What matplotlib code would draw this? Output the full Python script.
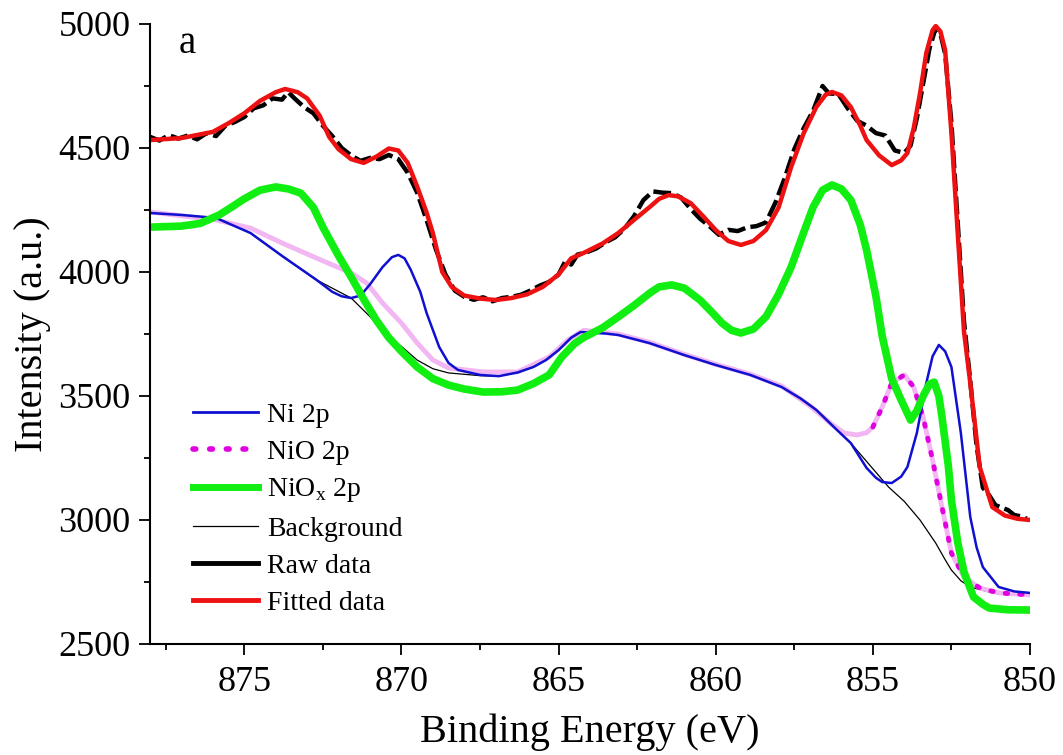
import numpy as np
import matplotlib
matplotlib.use("Agg")
from matplotlib import pyplot as plt
from matplotlib.lines import Line2D

plt.rcParams['font.family'] = ['Liberation Serif', 'DejaVu Serif']
plt.rcParams['mathtext.fontset'] = 'custom'
plt.rcParams['mathtext.rm'] = 'Liberation Serif'

# raw spectrum
raw_x = [878.0, 877.7, 877.4, 877.1, 876.8, 876.5, 876.2, 875.9, 875.6, 875.3,
         875.0, 874.7, 874.4, 874.1, 873.8, 873.6, 873.4, 873.1, 872.8, 872.5,
         872.2, 871.9, 871.6, 871.3, 871.0, 870.7, 870.4, 870.1, 869.8, 869.5,
         869.2, 868.9, 868.6, 868.3, 868.0, 867.7, 867.4, 867.1, 866.8, 866.5,
         866.2, 865.9, 865.6, 865.3, 865.0, 864.8, 864.6, 864.4, 864.1, 863.8,
         863.5, 863.2, 862.9, 862.6, 862.3, 862.0, 861.7, 861.4, 861.1, 860.8,
         860.5, 860.2, 859.9, 859.6, 859.3, 859.0, 858.7, 858.4, 858.1, 857.8,
         857.5, 857.2, 856.9, 856.6, 856.4, 856.1, 855.8, 855.5, 855.2, 854.9,
         854.6, 854.3, 854.0, 853.8, 853.6, 853.4, 853.2, 853.0, 852.85, 852.7,
         852.5, 852.3, 852.1, 851.9, 851.7, 851.5, 851.3, 851.1, 850.9, 850.7,
         850.5, 850.3, 850.1]
raw_y = [4545, 4530, 4552, 4538, 4550, 4535, 4560, 4548, 4590, 4605,
         4625, 4660, 4672, 4700, 4695, 4725, 4700, 4665, 4640, 4590,
         4548, 4500, 4470, 4448, 4460, 4455, 4472, 4455, 4400, 4320,
         4210, 4090, 3990, 3925, 3900, 3888, 3898, 3882, 3895, 3900,
         3908, 3925, 3945, 3960, 3990, 4040, 4030, 4070, 4080, 4095,
         4120, 4140, 4175, 4225, 4290, 4325, 4320, 4318, 4300, 4255,
         4215, 4185, 4150, 4170, 4165, 4180, 4185, 4200, 4280, 4380,
         4495, 4580, 4650, 4750, 4720, 4718, 4660, 4610, 4590, 4560,
         4550, 4490, 4480, 4510, 4620, 4760, 4900, 4985, 4960, 4880,
         4600, 4200, 3800, 3560, 3300, 3130, 3100, 3060, 3050, 3040,
         3020, 3015, 3005]

# fitted envelope
fit_x = [878.0, 877.0, 876.0, 875.5, 875.0, 874.5, 874.0, 873.7, 873.3, 873.0,
         872.6, 872.3, 872.0, 871.6, 871.2, 870.8, 870.4, 870.1, 869.8, 869.5,
         869.2, 869.0, 868.7, 868.4, 868.0, 867.5, 867.0, 866.5, 866.0, 865.5,
         865.0, 864.6, 864.2, 863.6, 863.1, 862.6, 862.1, 861.8, 861.5, 861.2,
         860.8, 860.4, 860.0, 859.6, 859.2, 858.8, 858.4, 858.0, 857.6, 857.2,
         856.8, 856.5, 856.3, 856.0, 855.7, 855.4, 855.2, 854.8, 854.4, 854.1,
         853.9, 853.7, 853.5, 853.3, 853.1, 853.0, 852.85, 852.7, 852.5, 852.3,
         852.1, 851.9, 851.6, 851.2, 850.8, 850.4, 850.0]
fit_y = [4532, 4540, 4565, 4600, 4640, 4690, 4725, 4738, 4725, 4700,
         4630, 4545, 4495, 4455, 4440, 4465, 4498, 4490, 4440, 4345,
         4240, 4157, 4000, 3940, 3905, 3893, 3887, 3895, 3910, 3940,
         3990, 4055, 4077, 4115, 4157, 4210, 4262, 4295, 4310, 4305,
         4278, 4225, 4169, 4125, 4109, 4125, 4169, 4260, 4423, 4560,
         4665, 4715, 4726, 4712, 4665, 4590, 4532, 4470, 4431, 4450,
         4480, 4580, 4720, 4883, 4975, 4992, 4970, 4895, 4560, 4157,
         3760, 3552, 3214, 3052, 3018, 3005, 3000]

# NiOx 2p component
niox_x = [878.0, 877.0, 876.4, 875.8, 875.4, 875.0, 874.5, 874.0, 873.6, 873.2,
          872.8, 872.5, 872.0, 871.6, 871.2, 870.8, 870.4, 870.0, 869.5, 869.0,
          868.5, 868.0, 867.4, 866.8, 866.3, 865.8, 865.3, 864.9, 864.5, 864.2,
          863.6, 863.1, 862.6, 862.1, 861.8, 861.4, 861.0, 860.5, 860.1, 859.8,
          859.5, 859.2, 858.8, 858.4, 858.0, 857.6, 857.2, 856.9, 856.6, 856.3,
          856.0, 855.7, 855.4, 855.2, 854.9, 854.7, 854.4, 854.1, 853.8, 853.6,
          853.4, 853.2, 853.05, 852.9, 852.8, 852.6, 852.5, 852.3, 852.1, 851.8,
          851.5, 851.3, 850.7, 850.0]
niox_y = [4181, 4185, 4196, 4230, 4262, 4295, 4330, 4343, 4335, 4318,
          4260, 4181, 4065, 3980, 3890, 3806, 3735, 3680, 3617, 3570,
          3544, 3528, 3516, 3517, 3524, 3550, 3585, 3657, 3710, 3736,
          3775, 3819, 3865, 3915, 3940, 3948, 3935, 3887, 3835, 3794,
          3765, 3754, 3770, 3820, 3910, 4020, 4160, 4262, 4330, 4351,
          4335, 4290, 4190, 4089, 3900, 3740, 3570, 3484, 3403, 3440,
          3500, 3548, 3556, 3500, 3415, 3220, 3081, 2910, 2790, 2690,
          2660, 2645, 2638, 2637]

# Shirley-type background
bg_x = [878.0, 877.0, 875.9, 875.3, 874.8, 873.8, 872.7, 871.6, 871.0, 870.6,
        870.0, 869.5, 869.0, 868.5, 867.5, 866.9, 866.3, 865.8, 865.4, 865.0,
        864.6, 864.3, 863.5, 863.1, 862.1, 861.0, 860.0, 858.9, 857.9, 857.3,
        856.8, 855.7, 854.5, 854.0, 853.5, 853.0, 852.7, 852.5, 852.2, 851.9,
        851.2, 850.0]
bg_y = [4238, 4230, 4218, 4190, 4157, 4065, 3968, 3895, 3820, 3760,
        3700, 3645, 3610, 3593, 3582, 3580, 3595, 3617, 3645, 3685,
        3735, 3758, 3752, 3746, 3713, 3665, 3625, 3585, 3536, 3490,
        3444, 3310, 3133, 3075, 3000, 2907, 2840, 2798, 2755, 2730,
        2706, 2698]

# Ni 2p component (on background)
ni_x = [878.0, 877.0, 875.9, 874.8, 873.8, 872.7, 872.2, 871.9, 871.6, 871.3,
        871.0, 870.6, 870.3, 870.1, 869.9, 869.7, 869.4, 869.2, 868.8, 868.5,
        868.2, 867.5, 866.9, 866.3, 865.8, 865.4, 865.0, 864.6, 864.3, 863.5,
        863.1, 862.1, 861.0, 860.0, 858.9, 857.9, 857.3, 856.8, 856.2, 855.7,
        855.2, 854.9, 854.7, 854.4, 854.1, 853.9, 853.6, 853.3, 853.1, 852.9,
        852.7, 852.5, 852.2, 851.9, 851.7, 851.5, 851.0, 850.5, 850.0]
ni_y = [4238, 4230, 4218, 4157, 4065, 3968, 3920, 3902, 3895, 3905,
        3950, 4020, 4060, 4069, 4055, 4008, 3920, 3835, 3698, 3633,
        3605, 3585, 3580, 3595, 3617, 3645, 3685, 3735, 3758, 3752,
        3746, 3713, 3665, 3625, 3585, 3536, 3490, 3444, 3370, 3310,
        3210, 3170, 3153, 3149, 3175, 3214, 3351, 3552, 3660, 3706,
        3680, 3617, 3351, 3012, 2890, 2810, 2730, 2712, 2706]

# NiO 2p component (on background)
nio_x = [878.0, 875.9, 874.8, 873.8, 872.7, 871.6, 871.1, 870.6, 870.0, 869.5,
         869.0, 868.5, 867.4, 866.3, 865.3, 864.7, 864.2, 863.1, 862.1, 861.0,
         860.0, 858.9, 857.9, 857.0, 856.3, 855.9, 855.5, 855.2, 855.0, 854.7,
         854.4, 854.0, 853.7, 853.4, 853.1, 852.8, 852.5, 852.1, 851.6, 851.0,
         850.0]
nio_y = [4242, 4210, 4177, 4117, 4056, 3996, 3955, 3875, 3794, 3714,
         3645, 3613, 3597, 3597, 3657, 3726, 3765, 3750, 3716, 3668,
         3628, 3588, 3540, 3460, 3385, 3350, 3343, 3352, 3375, 3456,
         3552, 3585, 3536, 3415, 3242, 3052, 2867, 2770, 2726, 2706,
         2698]

fig = plt.figure(figsize=(10.63, 7.55), dpi=100)
ax = fig.add_axes([150/1063, 111/755, 880/1063, 620/755])

ax.plot(bg_x, bg_y, color='black', lw=0.9)
ax.plot(nio_x, nio_y, color='#f2b6f2', lw=3.5, solid_capstyle='round')
nio_steep = [i for i, v in enumerate(nio_x) if v <= 855.0]
ax.plot([nio_x[i] for i in nio_steep], [nio_y[i] for i in nio_steep],
        color='#e000e0', lw=3.5, linestyle=(0, (0.5, 2.5)), dash_capstyle='round')
ax.plot(ni_x, ni_y, color='#1010d0', lw=1.8)
ax.plot(niox_x, niox_y, color='#11ee11', lw=5.5, solid_capstyle='round')
ax.plot(raw_x, raw_y, color='black', lw=3.2, dashes=(4, 1.2))
ax.plot(fit_x, fit_y, color='#ee1111', lw=3.2)

ax.set_xlim(878, 850)
ax.set_ylim(2500, 5000)
ax.set_xticks([875, 870, 865, 860, 855, 850])
ax.set_xticks(np.arange(877.5, 850, -5), minor=True)
ax.set_yticks([2500, 3000, 3500, 4000, 4500, 5000])
ax.set_yticks(np.arange(2750, 5000, 500), minor=True)
ax.spines['top'].set_visible(False)
ax.spines['right'].set_visible(False)
for s in ['left', 'bottom']:
    ax.spines[s].set_linewidth(1.5)
ax.tick_params(which='major', direction='out', length=8, width=1.3, labelsize=26, pad=6)
ax.tick_params(which='minor', direction='out', length=4.5, width=1.3)
ax.tick_params(axis='x', which='major', pad=8)

ax.set_xlabel('Binding Energy (eV)', fontsize=29)
ax.xaxis.set_label_coords(0.5, -0.112)
ax.set_ylabel('Intensity (a.u.)', fontsize=29)
ax.yaxis.set_label_coords(-0.112, 0.5)

ax.text(0.032, 0.953, 'a', transform=ax.transAxes, fontsize=28, va='baseline')

handles = [
    Line2D([], [], color='#1010d0', lw=2),
    Line2D([], [], color='#e000e0', lw=4, linestyle=(0, (0.5, 2.5)), dash_capstyle='round'),
    Line2D([], [], color='#11ee11', lw=5),
    Line2D([], [], color='black', lw=0.9),
    Line2D([], [], color='black', lw=3.5),
    Line2D([], [], color='#ee1111', lw=3.5),
]
labels = ['Ni 2p', 'NiO 2p', r'NiO$_\mathregular{x}$ 2p', 'Background', 'Raw data', 'Fitted data']
ax.legend(handles, labels, loc='upper left', bbox_to_anchor=(0.049, 0.39),
          frameon=False, fontsize=20, handlelength=2.35, handletextpad=0.3,
          labelspacing=0.42, borderpad=0, borderaxespad=0)

fig.savefig('out.png', dpi=100)
